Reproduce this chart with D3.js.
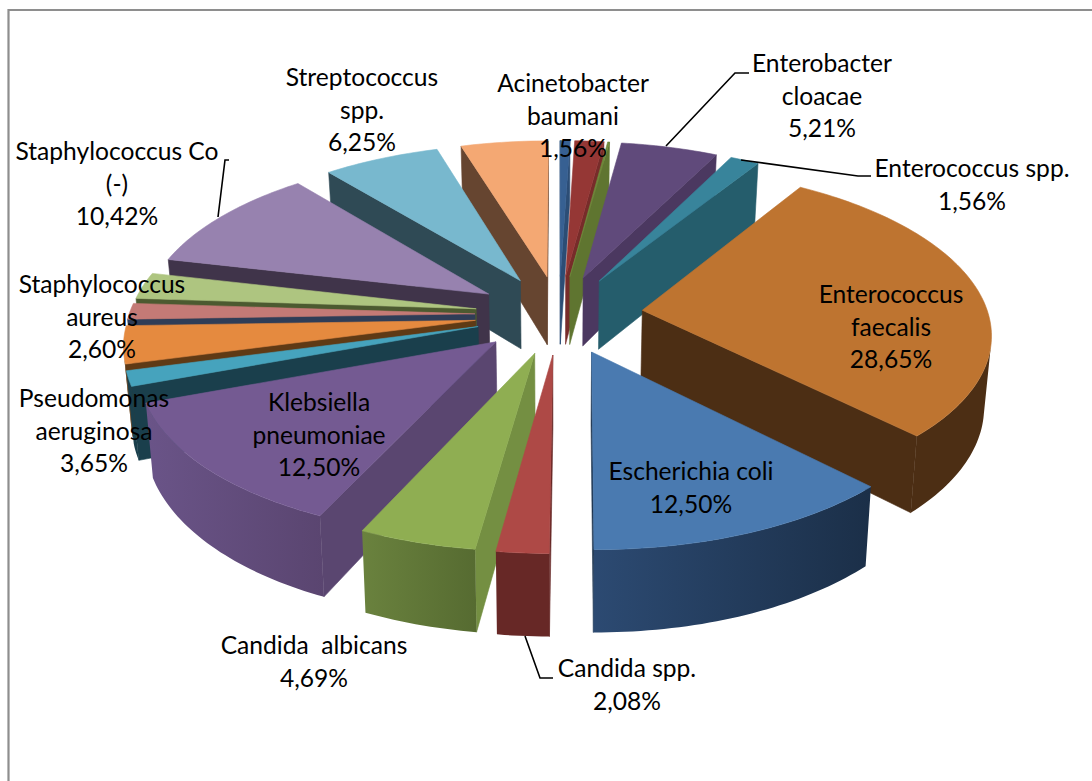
<!DOCTYPE html>
<html><head><meta charset="utf-8">
<script src="https://cdn.jsdelivr.net/npm/d3@7/dist/d3.min.js"></script>
<style>html,body{margin:0;padding:0;background:#fff}svg{display:block}</style>
</head><body><svg id="c" width="1092" height="781"></svg>
<script>
// ---- data (clockwise from 12 o'clock) ----
const species = ["Small A","Acinetobacter baumani","Small C","Enterobacter cloacae","Enterococcus spp.","Enterococcus faecalis","Escherichia coli","Candida spp.","Candida albicans","Klebsiella pneumoniae","Small K","Pseudomonas aeruginosa","Small P","Staphylococcus aureus","Staphylococcus Co (-)","Streptococcus spp.","Small S"];
const shares = [0.52,1.56,0.1,5.21,1.56,28.65,12.5,2.08,4.69,12.5,1.46,3.65,1.56,2.6,10.42,6.25,4.69];
// ---- styles ----
const topColors  = ["#376092","#953735","#6F8A3C","#604A7B","#38849B","#BE7430","#4A7AB0","#AE4946","#8FAE52","#745A92","#46A3BD","#E58A3F","#C47A76","#AEC580","#9782AF","#78B8CE","#F4A873"];
const wallColors = ["#2C4D75","#772C2A","#5F7530","#4B3860","#255D6C","#4C2E14","#1E3550","#672826","#748F42","#5A4670","#1A3F4C","#5F3A15","#2F3D57","#4C5A30","#40344A","#2F4A55","#664530"];
const rimLeft    = ["#2C4D75","#772C2A","#5F7530","#4B3860","#255D6C","#4C2E14","#2C4A72","#672826","#6A823E","#6A5488","#1A3F4C","#5F3A15","#2F3D57","#4C5A30","#40344A","#2F4A55","#664530"];
const rimRight   = ["#2C4D75","#772C2A","#5F7530","#4B3860","#255D6C","#4C2E14","#1B2F48","#672826","#566B31","#5A4570","#1A3F4C","#5F3A15","#2F3D57","#4C5A30","#40344A","#2F4A55","#664530"];
// ---- labels ----
const labelLines = [
 ["Acinetobacter","baumani","1,56%"],["Enterobacter","cloacae","5,21%"],["Enterococcus spp.","1,56%"],
 ["Enterococcus","faecalis","28,65%"],["Escherichia coli","12,50%"],["Candida spp.","2,08%"],
 ["Candida  albicans","4,69%"],["Klebsiella","pneumoniae","12,50%"],["Pseudomonas","aeruginosa","3,65%"],
 ["Staphylococcus","aureus","2,60%"],["Staphylococcus Co","(-)","10,42%"],["Streptococcus","spp.","6,25%"]];
const labelX = [573,822,972,891,691,627,314,319,94,102,117,362];
const labelY = [84,64,169,295,472,669,646,403,399,285,152,78];
const leaders = [[[666,146],[735,73],[749,73]],[[741,160],[858,176],[871,176]],[[525,636],[540,678],[553,678]],[[218,217],[225,160],[229,160]]];

// ---- geometry ----
const svg = d3.select("#c");
const W = 1092, H = 781;
const x0 = 559, y0 = 314.5, bx = 346, ay = 162, persp = 0.127, depth = 70, taper = 0.017, explode = 0.243;
const pie = d3.pie().sort(null).value(d => d);
const arcs = pie(shares);
const proj = (u, v, z) => { const d = 1 - persp * v;
  return [x0 + bx * u / d * (1 - taper * z), y0 + ay * v / d + z * depth / d]; };
const area = pts => -d3.polygonArea(pts);
const line = d3.line().curve(d3.curveLinearClosed);
const defs = svg.append("defs");

svg.append("path").attr("d", d3.line()([[W,10],[8.5,10],[8.5,H]])).attr("fill","none").attr("stroke","#8e8e8e").attr("stroke-width",2.2);

const order = arcs.map((a,i) => ({a,i,mid:(a.startAngle+a.endAngle)/2}))
  .sort((p,q) => (-Math.cos(p.mid)) - (-Math.cos(q.mid)));

order.forEach(({a,i,mid}) => {
  const eu = explode * Math.sin(mid), ev = -explode * Math.cos(mid);
  const P = (th, r, z) => proj(eu + r*Math.sin(th), ev - r*Math.cos(th), z);
  const g = svg.append("g");
  const paint = (pts, fill) => g.append("path").attr("d", line(pts)).attr("fill", fill).attr("stroke", fill).attr("stroke-width",0.6).attr("stroke-linejoin","round");
  const wall = th => [P(th,0,0),P(th,1,0),P(th,1,1),P(th,0,1)];
  const sw = wall(a.startAngle), ew = wall(a.endAngle);
  if (area(sw) < 0) paint(sw, wallColors[i]);
  if (area(ew) > 0) paint(ew, wallColors[i]);
  const n = Math.max(4, Math.ceil((a.endAngle-a.startAngle)/0.02));
  const ths = d3.range(n+1).map(k => a.startAngle + (a.endAngle-a.startAngle)*k/n);
  let vis = [];
  d3.pairs(ths).forEach(([t1,t2]) => {
    const q = [P(t1,1,0),P(t2,1,0),P(t2,1,1),P(t1,1,1)];
    if (area(q) < 0) { if (!vis.length) vis.push(t1); vis.push(t2); }
  });
  if (vis.length) {
    const rim = vis.map(t => P(t,1,0)).concat(vis.slice().reverse().map(t => P(t,1,1)));
    const xs = d3.extent(rim, d => d[0]);
    const id = "rim"+i;
    const lg = defs.append("linearGradient").attr("id",id).attr("gradientUnits","userSpaceOnUse")
      .attr("x1",xs[0]).attr("x2",xs[1]).attr("y1",0).attr("y2",0);
    lg.append("stop").attr("offset",0).attr("stop-color",rimLeft[i]);
    lg.append("stop").attr("offset",1).attr("stop-color",rimRight[i]);
    g.append("path").attr("d", line(rim)).attr("fill",`url(#${id})`);
  }
  const top = [P(a.startAngle,0,0)].concat(ths.map(t => P(t,1,0)));
  paint(top, topColors[i]);
});

// ---- leaders and labels ----
leaders.forEach(l => svg.append("path").attr("d", d3.line()(l)).attr("fill","none").attr("stroke","#000").attr("stroke-width",1.6));
labelLines.forEach((ls,i) => {
  const t = svg.append("text").attr("text-anchor","middle").attr("font-family","Lato, 'Open Sans', sans-serif")
    .attr("font-size",24.6).attr("fill","#000").attr("xml:space","preserve").style("white-space","pre");
  ls.forEach((s,k) => t.append("tspan").attr("x",labelX[i]).attr("y",labelY[i]+k*32.5+8).text(s));
});
</script></body></html>
